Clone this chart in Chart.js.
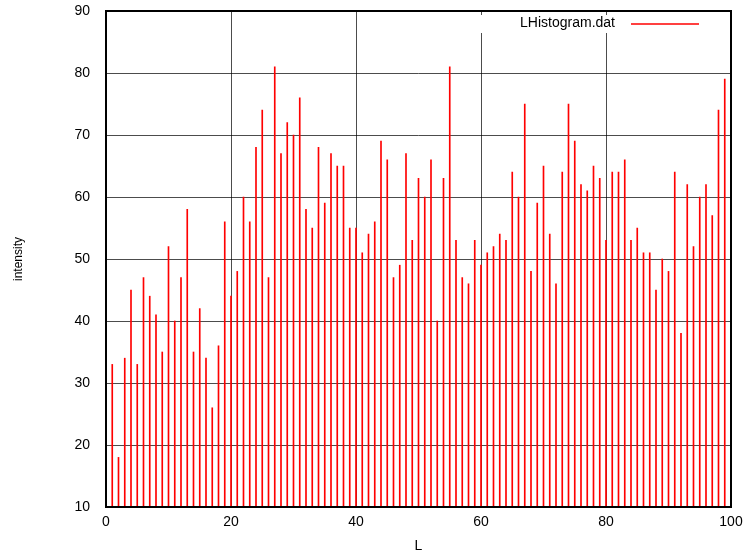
<!DOCTYPE html>
<html>
<head>
<meta charset="utf-8">
<script src="https://cdn.jsdelivr.net/npm/chart.js@4/dist/chart.umd.min.js"></script>
<style>
  html, body { margin: 0; padding: 0; background: #fff; }
  #wrap { width: 746px; height: 556px; }
</style>
</head>
<body>
<div id="wrap"><canvas id="chart" width="746" height="556"></canvas></div>
<script>
const seriesLabel = 'LHistogram.dat';

const L = [
    1, 2, 3, 4, 5, 6, 7, 8, 9, 10,
    11, 12, 13, 14, 15, 16, 17, 18, 19, 20,
    21, 22, 23, 24, 25, 26, 27, 28, 29, 30,
    31, 32, 33, 34, 35, 36, 37, 38, 39, 40,
    41, 42, 43, 44, 45, 46, 47, 48, 49, 50,
    51, 52, 53, 54, 55, 56, 57, 58, 59, 60,
    61, 62, 63, 64, 65, 66, 67, 68, 69, 70,
    71, 72, 73, 74, 75, 76, 77, 78, 79, 80,
    81, 82, 83, 84, 85, 86, 87, 88, 89, 90,
    91, 92, 93, 94, 95, 96, 97, 98, 99
];

const intensity = [
    33, 18, 34, 45, 33, 47, 44, 41, 35, 52,
    40, 47, 58, 35, 42, 34, 26, 36, 56, 44,
    48, 60, 56, 68, 74, 47, 81, 67, 72, 70,
    76, 58, 55, 68, 59, 67, 65, 65, 55, 55,
    51, 54, 56, 69, 66, 47, 49, 67, 53, 63,
    60, 66, 40, 63, 81, 53, 47, 46, 53, 49,
    51, 52, 54, 53, 64, 60, 75, 48, 59, 65,
    54, 46, 64, 75, 69, 62, 61, 65, 63, 53,
    64, 64, 66, 53, 55, 51, 51, 45, 50, 48,
    64, 38, 62, 52, 60, 62, 57, 74, 79
];

const xTicks = [0, 20, 40, 60, 80, 100];
const yTicks = [10, 20, 30, 40, 50, 60, 70, 80, 90];

const FONT = 'Liberation Sans, Arial, sans-serif';

// gnuplot style key: blank strip over the grid, text, then a line sample
const keyPlugin = {
    id: 'gnuKey',
    afterDraw(chart) {
        const ctx = chart.ctx;
        ctx.save();
        ctx.fillStyle = '#fff';
        ctx.fillRect(470, 15, 242, 18);
        ctx.font = '14px ' + FONT;
        ctx.fillStyle = '#000';
        ctx.textAlign = 'right';
        ctx.textBaseline = 'middle';
        ctx.fillText(chart.data.datasets[0].label, 615, 23.5);
        ctx.fillStyle = 'rgba(255, 0, 0, 0.75)';
        ctx.fillRect(631, 23, 68, 2);
        ctx.restore();
    }
};

// plot border, drawn on top
const framePlugin = {
    id: 'frame',
    afterDraw(chart) {
        const a = chart.chartArea;
        const ctx = chart.ctx;
        ctx.save();
        ctx.strokeStyle = '#000';
        ctx.lineWidth = 2;
        ctx.strokeRect(a.left, a.top, a.right - a.left, a.bottom - a.top);
        ctx.restore();
    }
};

const ctx = document.getElementById('chart').getContext('2d');
new Chart(ctx, {
    type: 'bar',
    data: {
        datasets: [{
            label: seriesLabel,
            data: L.map((x, i) => ({ x: x, y: intensity[i] })),
            backgroundColor: '#ff0000',
            borderWidth: 0,
            barThickness: 1,
            base: 10,
        }],
    },
    options: {
        responsive: false,
        animation: false,
        layout: {
            padding: { left: 0, right: 15, top: 11, bottom: 0 },
        },
        plugins: {
            legend: { display: false },
            tooltip: { enabled: false },
        },
        scales: {
            x: {
                type: 'linear',
                min: 0,
                max: 100,
                offset: false,
                afterBuildTicks: (scale) => { scale.ticks = xTicks.map(v => ({ value: v })); },
                afterFit: (scale) => {
                    scale.height = 49;
                    scale.paddingLeft = 0;
                    scale.paddingRight = 0;
                },
                border: { display: false },
                grid: {
                    offset: false,
                    color: 'rgba(0,0,0,0.7)',
                    lineWidth: 1,
                    drawTicks: false,
                },
                ticks: {
                    padding: 7,
                    color: '#000',
                    maxRotation: 0,
                    font: { family: FONT, size: 14 },
                },
                title: {
                    display: true,
                    text: 'L',
                    color: '#000',
                    padding: { top: 0, bottom: 1 },
                    font: { family: FONT, size: 14 },
                },
            },
            y: {
                min: 10,
                max: 90,
                afterBuildTicks: (scale) => { scale.ticks = yTicks.map(v => ({ value: v })); },
                afterFit: (scale) => {
                    scale.width = 106;
                    scale.paddingTop = 0;
                    scale.paddingBottom = 0;
                },
                border: { display: false },
                grid: {
                    color: 'rgba(0,0,0,0.7)',
                    lineWidth: 1,
                    drawTicks: false,
                },
                ticks: {
                    padding: 16,
                    color: '#000',
                    font: { family: FONT, size: 14 },
                },
                title: {
                    display: true,
                    text: 'intensity',
                    color: '#000',
                    padding: { top: 11, bottom: 0 },
                    font: { family: FONT, size: 12 },
                },
            },
        },
    },
    plugins: [keyPlugin, framePlugin],
});
</script>
</body>
</html>
